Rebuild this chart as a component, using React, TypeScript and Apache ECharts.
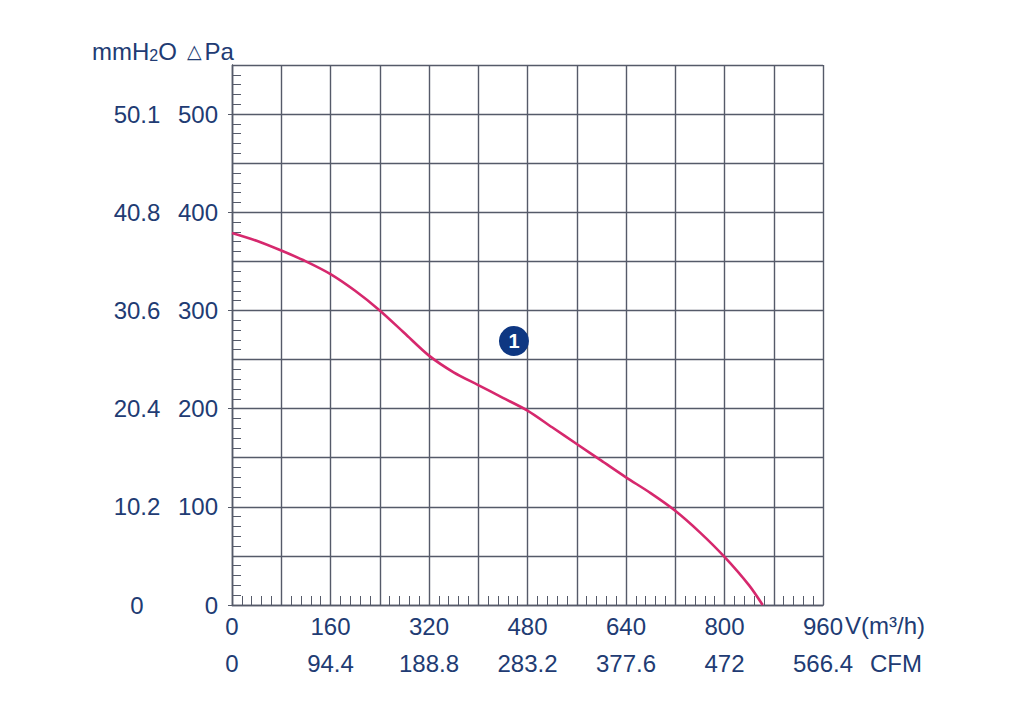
import { useEffect, useRef } from 'react'
import * as echarts from 'echarts'

// fan curve
const flowValues = [0, 40, 80, 120, 160, 200, 240, 280, 320, 360, 400, 440, 480, 520, 560, 600, 640, 680, 720, 760, 800, 840, 862]
const pressureValues = [379, 371, 361, 350, 337, 320, 300, 277, 254, 237, 224, 211, 198, 181, 164, 147, 130, 114, 96, 74, 49, 20, 0]

const flowTicks = [0, 160, 320, 480, 640, 800, 960]
const cfmLabels = ['0', '94.4', '188.8', '283.2', '377.6', '472', '566.4']
const paTicks = [0, 100, 200, 300, 400, 500]
const mmH2OLabels = ['0', '10.2', '20.4', '30.6', '40.8', '50.1']

const curveLabel = '1'
const curveLabelPos = [458, 269]

const TEXT = '#213b73'
const GRID = '#555a69'
const FONT = '"Liberation Sans", Arial, sans-serif'

export default function App() {
  const ref = useRef<HTMLDivElement>(null)

  useEffect(() => {
    if (!ref.current) return
    const chart = echarts.init(ref.current, undefined, { renderer: 'svg' })

    const labelStyle = { color: TEXT, fontSize: 24, fontFamily: FONT }

    const option: echarts.EChartsOption = {
      animation: false,
      backgroundColor: '#ffffff',
      grid: { left: 224, top: 57, right: 185, bottom: 107 },
      xAxis: [
        {
          type: 'value',
          min: 0,
          max: 960,
          interval: 80,
          axisLine: { show: true, lineStyle: { color: GRID, width: 1.4 } },
          axisTick: { show: false, inside: true },
          minorTick: { show: true, splitNumber: 5, length: 9, lineStyle: { color: GRID, width: 1 } },
          splitLine: { show: true, lineStyle: { color: GRID, width: 1.4 } },
          axisLabel: {
            ...labelStyle,
            margin: 9,
            formatter: (v: number) => (flowTicks.includes(v) ? String(v) : ''),
          },
        },
        {
          type: 'value',
          position: 'bottom',
          offset: 40,
          min: 0,
          max: 960,
          axisLine: { show: true, lineStyle: { color: GRID, width: 1.2 } },
          axisTick: { show: true, inside: true, length: 4, customValues: flowTicks, lineStyle: { color: GRID } },
          splitLine: { show: false },
          axisLabel: {
            ...labelStyle,
            margin: 6,
            customValues: flowTicks,
            formatter: (v: number) => {
              const i = flowTicks.indexOf(v)
              return i >= 0 ? cfmLabels[i] : ''
            },
          },
        },
      ],
      yAxis: [
        {
          type: 'value',
          min: 0,
          max: 550,
          interval: 50,
          axisLine: { show: true, lineStyle: { color: GRID, width: 1.4 } },
          axisTick: { show: false, inside: true },
          minorTick: { show: true, splitNumber: 5, length: 9, lineStyle: { color: GRID, width: 1 } },
          splitLine: { show: true, lineStyle: { color: GRID, width: 1.4 } },
          axisLabel: {
            ...labelStyle,
            margin: 14,
            formatter: (v: number) => (paTicks.includes(v) ? String(v) : ''),
          },
        },
        {
          type: 'value',
          position: 'left',
          offset: 55,
          min: 0,
          max: 550,
          axisLine: { show: true, lineStyle: { color: GRID, width: 1.2 } },
          axisTick: { show: true, length: 4, customValues: paTicks, lineStyle: { color: GRID } },
          splitLine: { show: false },
          axisLabel: {
            ...labelStyle,
            align: 'center',
            margin: 40,
            customValues: paTicks,
            formatter: (v: number) => {
              const i = paTicks.indexOf(v)
              return i >= 0 ? mmH2OLabels[i] : ''
            },
          },
        },
      ],
      series: [
        {
          type: 'line',
          xAxisIndex: 0,
          yAxisIndex: 0,
          data: flowValues.map((f, i) => [f, pressureValues[i]]),
          smooth: 0.3,
          showSymbol: false,
          lineStyle: { color: '#d6286d', width: 2.6 },
          z: 5,
        },
        {
          type: 'scatter',
          xAxisIndex: 0,
          yAxisIndex: 0,
          data: [curveLabelPos],
          symbolSize: 30,
          itemStyle: { color: '#0e3782', opacity: 1 },
          label: {
            show: true,
            position: 'inside',
            formatter: curveLabel,
            color: '#ffffff',
            fontSize: 20,
            fontWeight: 'bold',
            fontFamily: FONT,
          },
          z: 6,
        },
      ],
      graphic: [
        {
          type: 'text',
          left: 84,
          top: 31,
          style: {
            text: '{a|mmH}{s|2}{a|O}{t|△}{a|Pa}',
            rich: {
              a: { fontSize: 24, fontFamily: FONT, fill: TEXT, color: TEXT },
              s: { fontSize: 16, fontFamily: FONT, fill: TEXT, color: TEXT, verticalAlign: 'bottom', padding: [8, 0, 0, 0] },
              t: { fontSize: 19, fontFamily: '"DejaVu Sans", sans-serif', fill: TEXT, color: TEXT, padding: [0, 3, 0, 10] },
            },
          } as any,
        },
        {
          type: 'text',
          left: 837,
          top: 605,
          style: { text: 'V(m³/h)', fontSize: 24, fontFamily: FONT, fill: TEXT },
        },
        {
          type: 'text',
          left: 862,
          top: 643,
          style: { text: 'CFM', fontSize: 24, fontFamily: FONT, fill: TEXT },
        },
      ],
    }

    chart.setOption(option)
    return () => chart.dispose()
  }, [])

  return <div ref={ref} style={{ width: 1000, height: 704 }} />
}
